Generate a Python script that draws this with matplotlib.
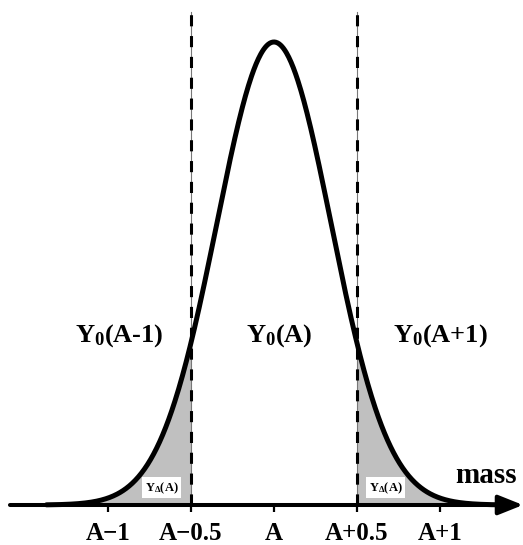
import numpy as np
import matplotlib
matplotlib.use("Agg")
import matplotlib.pyplot as plt

plt.rcParams['font.family'] = 'Liberation Serif'
plt.rcParams['font.weight'] = 'bold'
plt.rcParams['mathtext.fontset'] = 'custom'
plt.rcParams['mathtext.rm'] = 'Liberation Serif:bold'
plt.rcParams['mathtext.bf'] = 'Liberation Serif:bold'
plt.rcParams['mathtext.it'] = 'Liberation Serif:bold'
plt.rcParams['lines.scale_dashes'] = False

# mass axis: positions and labels
tick_pos = [-1.0, -0.5, 0.0, 0.5, 1.0]
tick_labels = ["A\u22121", "A\u22120.5", "A", "A+0.5", "A+1"]

# yield peak (gaussian) around A
peak_height = 1.0
sigma = 0.345
x_start, x_end = -1.37, 1.37
cut_left, cut_right = -0.5, 0.5

# region labels
region_x = [-0.93, 0.03, 1.0]
region_labels = [r"Y$\mathbf{_0}$(A-1)", r"Y$\mathbf{_0}$(A)", r"Y$\mathbf{_0}$(A+1)"]
tail_x = [-0.675, 0.672]

def peak(x):
    return peak_height * np.exp(-x**2 / (2 * sigma**2))

fig = plt.figure(figsize=(5.23, 5.45), dpi=100)
ax = fig.add_axes([0, 0, 1, 1])
ax.set_xlim(-1.65, 1.5)
ax.set_ylim(-0.0864, 1.0907)
ax.axis('off')

x = np.linspace(x_start, x_end, 600)
y = peak(x)

# shaded tails
ax.fill_between(x, 0, y, where=x <= cut_left, color='#c0c0c0', lw=0)
ax.fill_between(x, 0, y, where=x >= cut_right, color='#c0c0c0', lw=0)

# dashed cut lines
for c in (cut_left, cut_right):
    ax.plot([c, c], [0, 1.065], color='#777777', lw=0.8)
    ax.plot([c, c], [0, 1.065], color='black', lw=2.2, dashes=(8, 7))

ax.plot(x, y, color='black', lw=3.6, solid_capstyle='round')

# axis with arrow
ax.annotate('', xy=(1.50, 0), xytext=(-1.59, 0),
            arrowprops=dict(arrowstyle='-|>,head_length=1.5,head_width=0.6',
                            color='black', lw=2.9, shrinkA=0, shrinkB=0))
ax.vlines(tick_pos, -0.016, 0, color='black', lw=1.6)
for p, lab in zip(tick_pos, tick_labels):
    ax.text(p, -0.075, lab, ha='center', va='baseline', fontsize=18, fontweight='bold')

ax.text(1.28, 0.048, "mass", ha='center', va='baseline', fontsize=21, fontweight='bold')

for p, lab in zip(region_x, region_labels):
    ax.text(p, 0.352, lab, ha='center', va='baseline', fontsize=19, fontweight='bold')

for p in tail_x:
    ax.text(p, 0.037, r"Y$\mathbf{_\Delta}$(A)", ha='center', va='center', fontsize=9,
            fontweight='bold', bbox=dict(facecolor='white', edgecolor='none', pad=2))

fig.savefig("out.png", dpi=100)
